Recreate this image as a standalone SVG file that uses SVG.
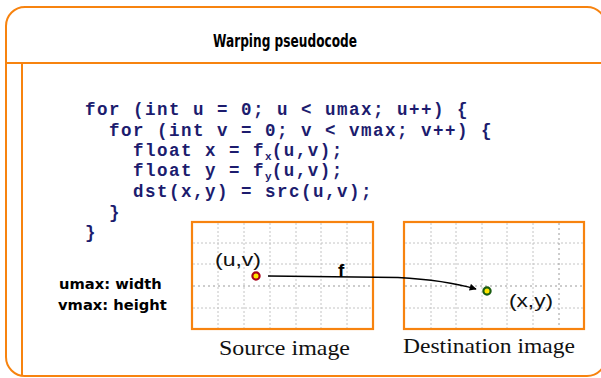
<svg xmlns="http://www.w3.org/2000/svg" width="601" height="378" viewBox="0 0 601 378">
<style>
.frame{fill:none;stroke:#f7830f;stroke-width:2}
.box{fill:#fff;stroke:#f7830f;stroke-width:2.2}
.grid{stroke:#c4c4c4;stroke-width:1;stroke-dasharray:2 2;fill:none}
.gridd{stroke:#9a9a9a;stroke-width:1;stroke-dasharray:2 3;fill:none}
.code{font-family:"Liberation Mono","Courier New",monospace;font-weight:bold;font-size:17.5px;letter-spacing:1.5px;fill:#1c1c6e;white-space:pre}
.sub{font-size:11px;letter-spacing:0}
.lbl{font-family:"Liberation Sans",Arial,sans-serif;font-size:19px;fill:#111}
.cap{font-family:"Liberation Serif","Times New Roman",serif;font-size:22px;fill:#111}
.note{font-family:"DejaVu Sans",Verdana,sans-serif;font-weight:bold;font-size:14.7px;fill:#000}
</style>
<defs>
<marker id="ah" viewBox="0 0 10 10" refX="9" refY="5" markerWidth="9" markerHeight="7" markerUnits="userSpaceOnUse" orient="auto">
<path d="M0,0 L10,5 L0,10 z" fill="#000"/>
</marker>
</defs>
<rect width="601" height="378" fill="#fff"/>
<g id="frame">
<rect class="frame" x="6" y="7" width="600" height="369" rx="19" ry="19"/>
<line class="frame" x1="6" y1="63" x2="606" y2="63"/>
<line class="frame" x1="22" y1="63" x2="22" y2="376"/>
<text x="285" y="47" text-anchor="middle" font-family="'DejaVu Sans',Verdana,sans-serif" font-weight="bold" font-size="17" textLength="144" lengthAdjust="spacingAndGlyphs" fill="#000">Warping pseudocode</text>
</g>
<g id="code">
<text class="code" x="85" y="115">for (int u = 0; u &lt; umax; u++) {</text>
<text class="code" x="109" y="136">for (int v = 0; v &lt; vmax; v++) {</text>
<text class="code" x="133" y="156">float x = f<tspan class="sub" dy="4">x</tspan><tspan dy="-4">(u,v);</tspan></text>
<text class="code" x="133" y="176">float y = f<tspan class="sub" dy="4">y</tspan><tspan dy="-4">(u,v);</tspan></text>
<text class="code" x="133" y="197">dst(x,y) = src(u,v);</text>
<text class="code" x="109" y="218">}</text>
<text class="code" x="85" y="238">}</text>
</g>
<g id="notes">
<text class="note" x="59" y="289">umax: width</text>
<text class="note" x="58" y="310">vmax: height</text>
</g>
<g id="source">
<rect class="box" x="192" y="222" width="181" height="107"/>
<path class="grid" d="M218 223V328M244 223V328M270 223V328M296 223V328M321 223V328M347 223V328M193 243H372M193 264H372M193 308H372"/>
<path class="gridd" d="M193 286H372"/>
<circle cx="256" cy="276" r="3.6" fill="#ffe600" stroke="#a8001a" stroke-width="2.2"/>
<text class="lbl" x="215" y="266" textLength="46" lengthAdjust="spacingAndGlyphs">(u,v)</text>
<text class="cap" x="219" y="355" textLength="131" lengthAdjust="spacingAndGlyphs">Source image</text>
</g>
<g id="destination">
<rect class="box" x="404" y="222" width="180" height="107"/>
<path class="grid" d="M431 223V328M456 223V328M482 223V328M507 223V328M533 223V328M405 243H583M405 264H583M405 308H583"/>
<path class="gridd" d="M405 286H583M559 223V328"/>
<circle cx="487" cy="291" r="3.6" fill="#ffe600" stroke="#1a5c12" stroke-width="2.2"/>
<text class="lbl" x="509" y="307" textLength="44" lengthAdjust="spacingAndGlyphs">(x,y)</text>
<text class="cap" x="403" y="353" textLength="172" lengthAdjust="spacingAndGlyphs">Destination image</text>
</g>
<g id="connectors">
<path d="M268 276 L398 277.5 Q445 280 476 289" fill="none" stroke="#000" stroke-width="1.6" marker-end="url(#ah)"/>
<text x="338" y="277" font-family="'Liberation Sans',Arial,sans-serif" font-weight="bold" font-size="19" fill="#000">f</text>
</g>
</svg>
